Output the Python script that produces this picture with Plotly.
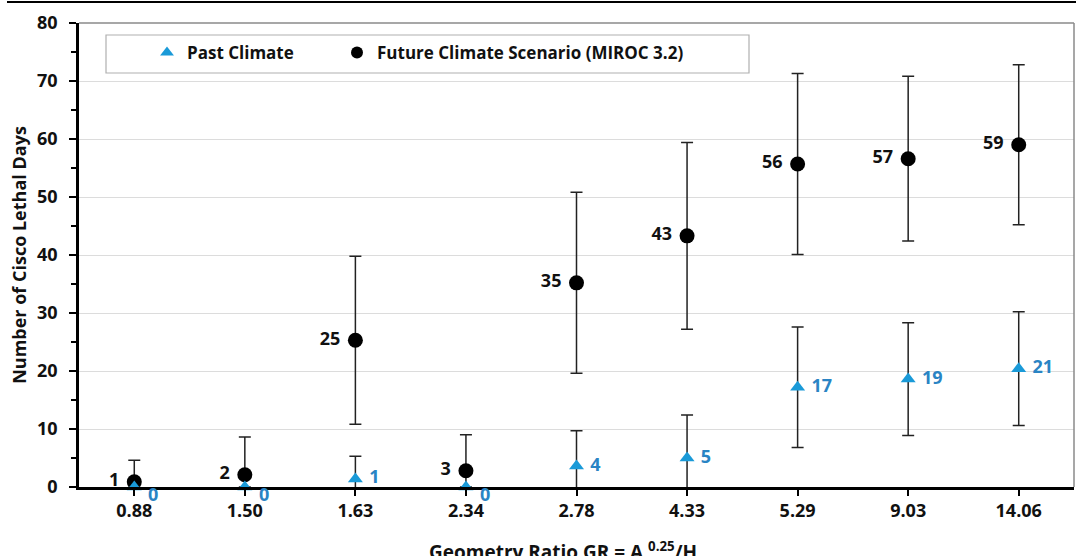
import plotly.graph_objects as go

categories = ["0.88", "1.50", "1.63", "2.34", "2.78", "4.33", "5.29", "9.03", "14.06"]

past_values = [0, 0, 1.4, 0, 3.6, 5.0, 17.2, 18.6, 20.4]
past_errors = [0, 0, 3.9, 0, 6.1, 7.4, 10.4, 9.7, 9.8]
past_labels = ["0", "0", "1", "0", "4", "5", "17", "19", "21"]

future_values = [0.9, 2.1, 25.3, 2.8, 35.2, 43.3, 55.7, 56.6, 59.0]
future_errors = [3.7, 6.5, 14.5, 6.2, 15.6, 16.1, 15.6, 14.2, 13.8]
future_labels = ["1", "2", "25", "3", "35", "43", "56", "57", "59"]

y_ticks = [0, 10, 20, 30, 40, 50, 60, 70, 80]

FONT = "Open Sans"
BLUE_MARK = "#1a9ad8"
BLUE_TEXT = "#2a84c4"
TXT = "#111111"
NB = "\u00a0"

L, R, T, B = 79, 2, 23, 69
PW = 1076 - L - R
PH = 556 - T - B

# labels for non-zero past values go on the trace; zero labels are annotations
past_text = [NB + t if v != 0 else "" for t, v in zip(past_labels, past_values)]
future_text = [t + NB for t in future_labels]

fig = go.Figure()

fig.add_trace(go.Scatter(
    x=categories, y=future_values, mode="markers+text",
    name="Future Climate Scenario (MIROC 3.2)",
    marker=dict(symbol="circle", size=15, color="black"),
    error_y=dict(type="data", array=future_errors, visible=True,
                 color="#222222", thickness=1.5, width=6),
    text=future_text, textposition="middle left",
    textfont=dict(family=FONT, size=18, color=TXT, weight="bold"),
    cliponaxis=True, showlegend=False,
))

fig.add_trace(go.Scatter(
    x=categories, y=past_values, mode="markers+text",
    name="Past Climate",
    marker=dict(symbol="triangle-up", size=13, color=BLUE_MARK),
    error_y=dict(type="data", array=past_errors, visible=True,
                 color="#222222", thickness=1.5, width=6),
    text=past_text, textposition="middle right",
    textfont=dict(family=FONT, size=18, color=BLUE_TEXT, weight="bold"),
    cliponaxis=False, showlegend=True, legend="legend",
))

fig.add_trace(go.Scatter(
    x=[None], y=[None], mode="markers",
    name="Future Climate Scenario (MIROC 3.2)",
    marker=dict(symbol="circle", size=11, color="black"),
    showlegend=True, legend="legend2",
))

for i, (v, t) in enumerate(zip(past_values, past_labels)):
    if v == 0:
        fig.add_annotation(
            x=i, y=v, text=t, xref="x", yref="y", showarrow=False,
            xanchor="left", yanchor="middle", xshift=12, yshift=-7,
            font=dict(family=FONT, size=18, color=BLUE_TEXT, weight="bold"),
        )

leg_font = dict(family=FONT, size=17, color=TXT, weight="bold")

fig.update_layout(
    width=1076, height=556,
    margin=dict(l=L, r=R, t=T, b=B),
    paper_bgcolor="white", plot_bgcolor="white",
    font=dict(family=FONT, size=18, color=TXT),
    legend=dict(
        orientation="h", x=(147 - L) / PW, y=0.974, xanchor="left", yanchor="top",
        borderwidth=0, bgcolor="rgba(0,0,0,0)", font=leg_font,
        itemsizing="constant",
    ),
    legend2=dict(
        orientation="h", x=(337 - L) / PW, y=0.974, xanchor="left", yanchor="top",
        borderwidth=0, bgcolor="rgba(0,0,0,0)", font=leg_font,
        itemsizing="constant",
    ),
    xaxis=dict(
        type="category", categoryorder="array", categoryarray=categories,
        showgrid=False, showline=True, linecolor="black", linewidth=2.5,
        ticks="outside", ticklen=6, tickwidth=2, tickcolor="black",
        tickfont=dict(family=FONT, size=18, color=TXT, weight="bold"),
        zeroline=False, range=[-0.5, 8.5], ticklabelstandoff=0,
    ),
    yaxis=dict(
        range=[0, 80], tickvals=y_ticks, showgrid=True, gridcolor="#dcdcdc",
        gridwidth=1, showline=True, linecolor="black", linewidth=2.5,
        ticks="outside", ticklen=7, tickwidth=2, tickcolor="black",
        tickfont=dict(family=FONT, size=18, color=TXT, weight="bold"),
        zeroline=False, ticklabelstandoff=8,
        minor=dict(dtick=5, ticks="outside", ticklen=5, tickwidth=1.5,
                   tickcolor="black", showgrid=False),
        title=dict(text="Number of Cisco Lethal Days",
                   font=dict(family=FONT, size=18, color=TXT, weight="bold"),
                   standoff=6),
    ),
)

# legend frame
fig.add_shape(type="rect", xref="paper", yref="paper",
              x0=(106 - L) / PW, x1=(749 - L) / PW,
              y0=(487 - 73) / PH, y1=(487 - 35) / PH,
              line=dict(color="#b0b0b0", width=1.2), fillcolor="white", layer="below")
# plot-area border (top and right, gray)
fig.add_shape(type="line", xref="paper", yref="paper", x0=0, x1=1, y0=1, y1=1,
              line=dict(color="#8a8a8a", width=1.5))
fig.add_shape(type="line", xref="paper", yref="paper", x0=1, x1=1, y0=0, y1=1,
              line=dict(color="#8a8a8a", width=1.5))
# top black rule of the figure
fig.add_shape(type="line", xref="paper", yref="paper", x0=(7 - L) / PW, x1=(1076 - L) / PW,
              y0=(487 - 2) / PH, y1=(487 - 2) / PH, line=dict(color="black", width=2))

fig.add_annotation(
    text="Geometry Ratio GR = A <sup>0.25</sup>/H",
    xref="paper", yref="paper", x=(563 - L) / PW, y=-0.104, xanchor="center", yanchor="top",
    showarrow=False,
    font=dict(family=FONT, size=19, color=TXT, weight="bold"),
)

fig.write_html("out.html", config={"displayModeBar": False},
               post_script="document.body.style.margin='0px';")
